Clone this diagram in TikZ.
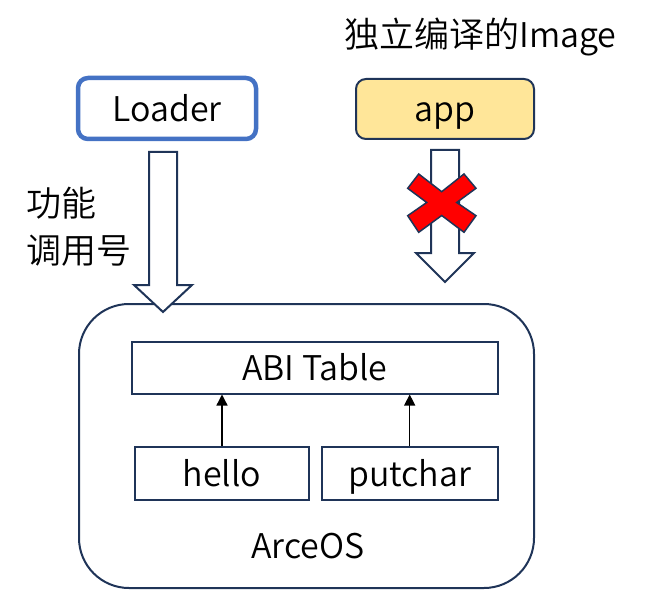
\documentclass[tikz,border=0pt]{standalone}
\usepackage{fontspec}
\setmainfont{Noto Sans CJK SC DemiLight}
\usetikzlibrary{arrows.meta}
\definecolor{navy}{HTML}{1F3458}
\definecolor{lblue}{HTML}{4472C4}
\definecolor{lyellow}{HTML}{FFE699}
\newcommand{\cjkbig}{\fontsize{35}{40}\selectfont}
\tikzset{
  txt/.style={font=\fontsize{34}{40}\selectfont},
  bl/.style={text depth=0pt, text height=#1},
  boxbase/.style={draw=navy, line width=2pt, inner sep=0pt, txt},
  plainbox/.style={boxbase},
  bluebox/.style={boxbase, draw=lblue, line width=4.5pt, rounded corners=10pt},
  yellowbox/.style={boxbase, fill=lyellow, rounded corners=10pt},
  bigbox/.style={draw=navy, line width=2pt, rounded corners=50pt, inner sep=0pt},
  blockarrow/.style={draw=navy, line width=2pt, fill=white, line join=miter},
  smallarrow/.style={draw=black, line width=1.3pt, -{Triangle[width=11pt,length=11pt]}},
  crossmark/.style={draw=navy, line width=1.5pt, fill=red, line join=miter},
  label/.style={txt, inner sep=0pt, anchor=base}
}
\begin{document}
\begin{tikzpicture}[x=1pt,y=-1pt]
\useasboundingbox (0,0) rectangle (667,591);
% title
\node[label] (title) at (480.5,47.3) {{\cjkbig 独立编译的}Image};
% top boxes
\node[bluebox, bl=27pt, minimum width=178pt, minimum height=61pt] (loader) at (167,108.5) {Loader};
\node[yellowbox, bl=26pt, minimum width=178pt, minimum height=60pt] (app) at (445,109) {app};
% big box
\node[bigbox, minimum width=455pt, minimum height=284pt] (arceos) at (306.5,446) {};
\node[label] (arceoslabel) at (308,558.3) {ArceOS};
% inner boxes
\node[plainbox, bl=25pt, minimum width=366pt, minimum height=52pt] (abi) at (314.8,367.5) {ABI Table};
\node[plainbox, bl=26.8pt, minimum width=174pt, minimum height=53pt] (hello) at (222,473.3) {hello};
\node[plainbox, bl=26.8pt, minimum width=176pt, minimum height=53pt] (putchar) at (409.7,473.3) {putchar};
% small arrows
\draw[smallarrow] (hello.north) -- (hello.north |- abi.south);
\draw[smallarrow] (putchar.north) -- (putchar.north |- abi.south);
% block arrow Loader -> ArceOS
\draw[blockarrow] (149,152) -- (177,152) -- (177,285) -- (192,285) -- (163,312) -- (134,285) -- (149,285) -- cycle;
% block arrow app -> ArceOS (blocked)
\draw[blockarrow] (431,150) -- (459,150) -- (459,253) -- (474,253) -- (445,282) -- (416,253) -- (431,253) -- cycle;
% red cross
\draw[crossmark] (407.7,188.3) -- (418.7,174) -- (441.7,191.7) -- (464,174) -- (476,188.3) -- (456.7,202.5)
  -- (476,215.7) -- (464,232.3) -- (441.7,215.5) -- (418.7,232.3) -- (407.7,215.7) -- (426.7,202.5) -- cycle;
% side label
\node[label, anchor=base west, font=\cjkbig] (fn1) at (26,216) {功能};
\node[label, anchor=base west, font=\cjkbig] (fn2) at (26,263) {调用号};
\end{tikzpicture}
\end{document}
